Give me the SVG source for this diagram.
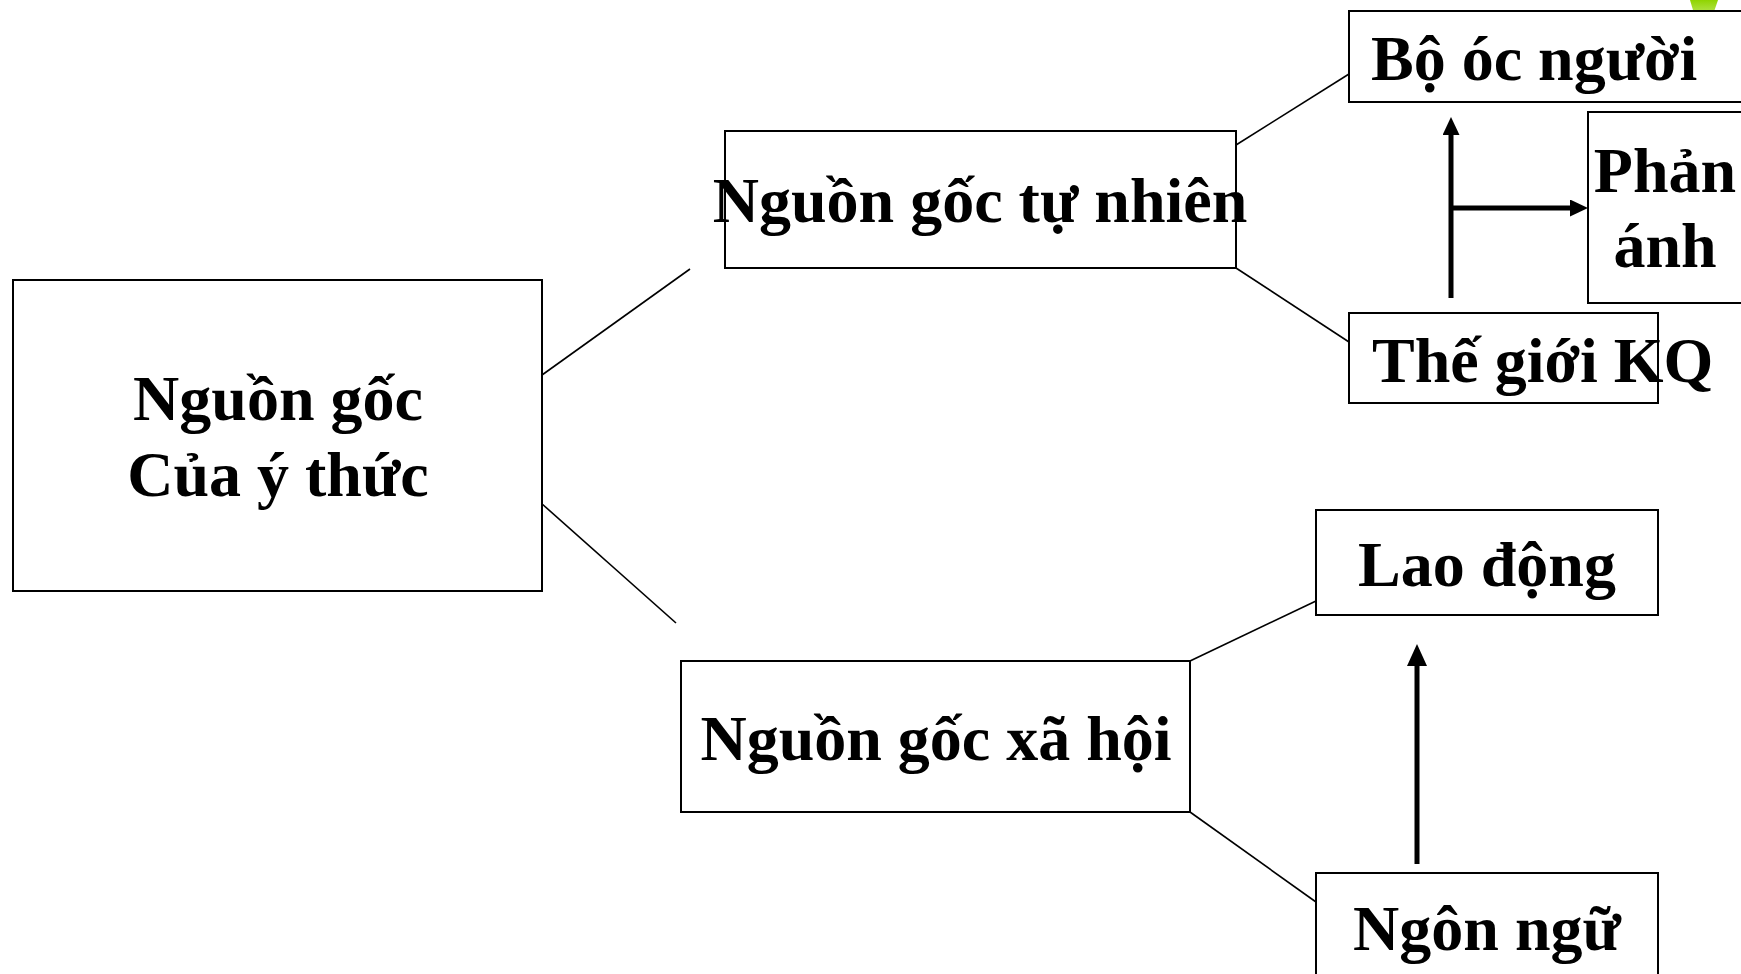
<svg xmlns="http://www.w3.org/2000/svg" width="1741" height="974" viewBox="0 0 1741 974">
<style>
.box{fill:#fff;stroke:#000;stroke-width:2}
.lbl{font-family:"Liberation Serif","Times New Roman",serif;font-weight:bold;font-size:64px;fill:#000}
.c{text-anchor:middle}
.con{stroke:#000;stroke-width:1.6;fill:none}
.arr{stroke:#000;stroke-width:5;fill:none}
</style>
<defs>
<marker id="ah" markerUnits="userSpaceOnUse" viewBox="0 0 18 17" refX="0" refY="8.5" markerWidth="18" markerHeight="17" orient="auto">
<path d="M0,0 L18,8.5 L0,17 z" fill="#000"/>
</marker>
<marker id="ah2" markerUnits="userSpaceOnUse" viewBox="0 0 22 20" refX="0" refY="10" markerWidth="22" markerHeight="20" orient="auto">
<path d="M0,0 L22,10 L0,20 z" fill="#000"/>
</marker>
<linearGradient id="gr" x1="0" y1="0" x2="0" y2="1">
<stop offset="0" stop-color="#8fd400"/>
<stop offset="1" stop-color="#c8f060" stop-opacity="0.3"/>
</linearGradient>
</defs>
<rect width="1741" height="974" fill="#fff"/>
<polygon points="1690,0 1718,0 1703,44" fill="url(#gr)"/>
<g id="connectors">
<line class="con" x1="542" y1="375" x2="690" y2="269"/>
<line class="con" x1="541" y1="503" x2="676" y2="623"/>
<line class="con" x1="1236" y1="145" x2="1349" y2="74"/>
<line class="con" x1="1236" y1="268" x2="1349" y2="342"/>
<line class="con" x1="1190" y1="661" x2="1316" y2="601"/>
<line class="con" x1="1190" y1="812" x2="1316" y2="902"/>
<line class="arr" x1="1451" y1="298" x2="1451" y2="135" marker-end="url(#ah)"/>
<line class="arr" x1="1451" y1="208" x2="1570" y2="208" marker-end="url(#ah)"/>
<line class="arr" x1="1417" y1="864" x2="1417" y2="666" marker-end="url(#ah2)"/>
</g>
<g id="main">
<rect class="box" x="13" y="280" width="529" height="311"/>
<text class="lbl c" x="278" y="420">Nguồn gốc</text>
<text class="lbl c" x="278" y="496">Của ý thức</text>
</g>
<g id="natural">
<rect class="box" x="725" y="131" width="511" height="137"/>
<text class="lbl c" x="980" y="222">Nguồn gốc tự nhiên</text>
</g>
<g id="brain">
<rect class="box" x="1349" y="11" width="400" height="91"/>
<text class="lbl" x="1371" y="80">Bộ óc người</text>
</g>
<g id="reflect">
<rect class="box" x="1588" y="112" width="160" height="191"/>
<text class="lbl c" x="1665" y="192">Phản</text>
<text class="lbl c" x="1665" y="267">ánh</text>
</g>
<g id="world">
<rect class="box" x="1349" y="313" width="309" height="90"/>
<text class="lbl" x="1372" y="382">Thế giới KQ</text>
</g>
<g id="social">
<rect class="box" x="681" y="661" width="509" height="151"/>
<text class="lbl c" x="936" y="760">Nguồn gốc xã hội</text>
</g>
<g id="labor">
<rect class="box" x="1316" y="510" width="342" height="105"/>
<text class="lbl c" x="1487" y="586">Lao động</text>
</g>
<g id="language">
<rect class="box" x="1316" y="873" width="342" height="110"/>
<text class="lbl c" x="1487" y="950">Ngôn ngữ</text>
</g>
</svg>
